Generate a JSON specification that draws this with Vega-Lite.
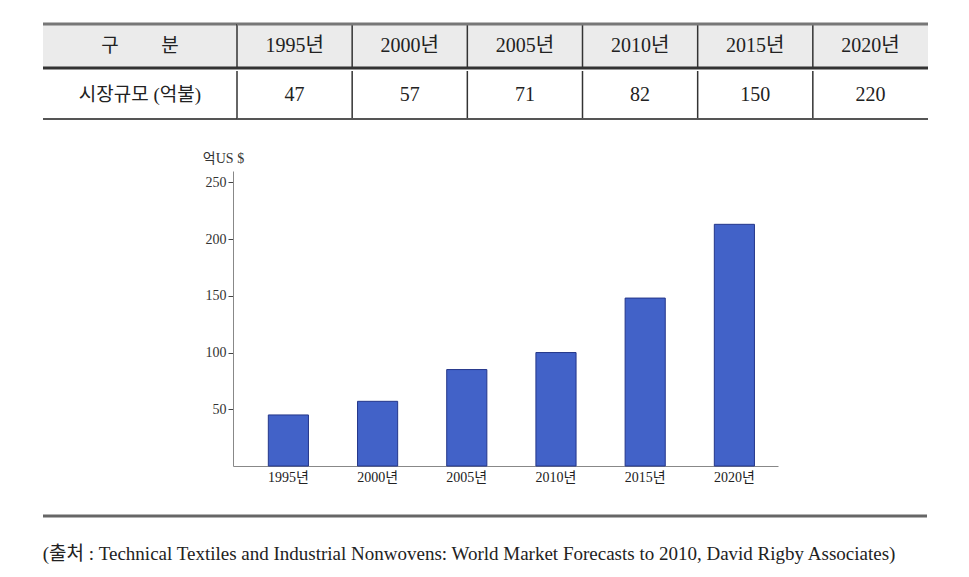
{
  "$schema": "https://vega.github.io/schema/vega-lite/v6.json",
  "padding": 0,
  "autosize": {"type": "pad"},
  "background": "white",
  "datasets": {
    "market": [
      {"year": "1995년", "table_value": 47, "chart_value": 45},
      {"year": "2000년", "table_value": 57, "chart_value": 57},
      {"year": "2005년", "table_value": 71, "chart_value": 85},
      {"year": "2010년", "table_value": 82, "chart_value": 100},
      {"year": "2015년", "table_value": 150, "chart_value": 148},
      {"year": "2020년", "table_value": 220, "chart_value": 213}
    ],
    "labels": [
      {"row": "header", "label": "구\u00a0\u00a0\u00a0\u00a0\u00a0\u00a0\u00a0\u00a0\u00a0분"},
      {"row": "value", "label": "시장규모 (억불)"}
    ],
    "edges": [{"edge": "top"}, {"edge": "bottom"}],
    "source": [{"note": "(출처 : Technical Textiles and Industrial Nonwovens: World Market Forecasts to 2010, David Rigby Associates)"}],
    "empty": []
  },
  "spacing": 0,
  "bounds": "full",
  "vconcat": [
    {"width": 1, "height": 21.5, "data": {"name": "empty"}, "mark": "point"},
    {
      "spacing": 0,
      "bounds": "flush",
      "hconcat": [
        {"width": 43, "height": 44, "data": {"name": "empty"}, "mark": "point"},
        {
          "width": 194, "height": 44,
          "layer": [
            {"data": {"name": "labels"}, "transform": [{"filter": "datum.row === 'header'"}], "mark": {"type": "rect", "fill": "#ebebeb"}, "encoding": {}},
            {"data": {"name": "edges"}, "transform": [{"filter": "datum.edge === 'top'"}], "mark": {"type": "rule", "color": "#777777", "strokeWidth": 3},
             "encoding": {"y": {"field": "edge", "type": "nominal", "scale": {"type": "point", "domain": ["top", "bottom"], "padding": 0}, "axis": null}}},
            {"data": {"name": "edges"}, "transform": [{"filter": "datum.edge === 'bottom'"}], "mark": {"type": "rule", "color": "#333333", "strokeWidth": 3},
             "encoding": {"y": {"field": "edge", "type": "nominal", "scale": {"type": "point", "domain": ["top", "bottom"], "padding": 0}, "axis": null}}},
            {"data": {"name": "labels"}, "transform": [{"filter": "datum.row === 'header'"}], "mark": {"type": "text", "fontSize": 19, "color": "#222222"},
             "encoding": {"text": {"field": "label"}}}
          ],
          "resolve": {"scale": {"x": "independent", "y": "independent"}}
        },
        {
          "width": 691, "height": 44,
          "layer": [
            {"data": {"name": "labels"}, "transform": [{"filter": "datum.row === 'header'"}], "mark": {"type": "rect", "fill": "#ebebeb"}, "encoding": {}},
            {"data": {"name": "market"}, "mark": {"type": "rule", "color": "#333333", "strokeWidth": 1.5},
             "encoding": {"x": {"field": "year", "type": "nominal", "bandPosition": 0, "scale": {"type": "band", "paddingInner": 0, "paddingOuter": 0}, "axis": null}}},
            {"data": {"name": "edges"}, "transform": [{"filter": "datum.edge === 'top'"}], "mark": {"type": "rule", "color": "#777777", "strokeWidth": 3},
             "encoding": {"y": {"field": "edge", "type": "nominal", "scale": {"type": "point", "domain": ["top", "bottom"], "padding": 0}, "axis": null}}},
            {"data": {"name": "edges"}, "transform": [{"filter": "datum.edge === 'bottom'"}], "mark": {"type": "rule", "color": "#333333", "strokeWidth": 3},
             "encoding": {"y": {"field": "edge", "type": "nominal", "scale": {"type": "point", "domain": ["top", "bottom"], "padding": 0}, "axis": null}}},
            {"data": {"name": "market"}, "mark": {"type": "text", "fontSize": 20, "color": "#222222"},
             "encoding": {"x": {"field": "year", "type": "nominal", "scale": {"type": "band", "paddingInner": 0, "paddingOuter": 0}, "axis": null}, "text": {"field": "year"}}}
          ],
          "resolve": {"scale": {"x": "independent", "y": "independent"}}
        }
      ]
    },
    {
      "spacing": 0,
      "bounds": "flush",
      "hconcat": [
        {"width": 43, "height": 48, "data": {"name": "empty"}, "mark": "point"},
        {
          "width": 194, "height": 48,
          "layer": [
            {"data": {"name": "edges"}, "transform": [{"filter": "datum.edge === 'bottom'"}], "mark": {"type": "rule", "color": "#555555", "strokeWidth": 2},
             "encoding": {"y": {"field": "edge", "type": "nominal", "scale": {"type": "point", "domain": ["top", "bottom"], "padding": 0}, "axis": null}}},
            {"data": {"name": "labels"}, "transform": [{"filter": "datum.row === 'value'"}], "mark": {"type": "text", "fontSize": 19, "color": "#222222"},
             "encoding": {"text": {"field": "label"}}}
          ],
          "resolve": {"scale": {"x": "independent", "y": "independent"}}
        },
        {
          "width": 691, "height": 48,
          "layer": [
            {"data": {"name": "market"}, "mark": {"type": "rule", "color": "#333333", "strokeWidth": 1.5},
             "encoding": {"x": {"field": "year", "type": "nominal", "bandPosition": 0, "scale": {"type": "band", "paddingInner": 0, "paddingOuter": 0}, "axis": null}}},
            {"data": {"name": "edges"}, "transform": [{"filter": "datum.edge === 'bottom'"}], "mark": {"type": "rule", "color": "#555555", "strokeWidth": 2},
             "encoding": {"y": {"field": "edge", "type": "nominal", "scale": {"type": "point", "domain": ["top", "bottom"], "padding": 0}, "axis": null}}},
            {"data": {"name": "market"}, "mark": {"type": "text", "fontSize": 20, "color": "#222222"},
             "encoding": {"x": {"field": "year", "type": "nominal", "scale": {"type": "band", "paddingInner": 0, "paddingOuter": 0}, "axis": null}, "text": {"field": "table_value"}}}
          ],
          "resolve": {"scale": {"x": "independent", "y": "independent"}}
        }
      ]
    },
    {"width": 1, "height": 31, "data": {"name": "empty"}, "mark": "point"},
    {
      "spacing": 0,
      "bounds": "flush",
      "hconcat": [
        {"width": 233, "height": 295, "data": {"name": "empty"}, "mark": "point"},
        {
          "width": 545, "height": 295,
          "data": {"name": "market"},
          "mark": {"type": "bar", "color": "#4262c8", "stroke": "#24368a", "strokeWidth": 1},
          "encoding": {
            "x": {"field": "year", "type": "nominal",
                  "scale": {"paddingInner": 0.55, "paddingOuter": 0.33, "align": 0.6},
                  "axis": {"title": null, "labelAngle": 0, "ticks": false, "domainColor": "#888888", "labelFontSize": 14, "labelColor": "#222222", "labelPadding": 4}},
            "y": {"field": "chart_value", "type": "quantitative",
                  "scale": {"domain": [0, 260], "nice": false},
                  "axis": {"values": [50, 100, 150, 200, 250], "grid": false, "title": "억US $", "titleAngle": 0, "titleX": -10, "titleY": -6, "titleAlign": "center", "titleBaseline": "bottom", "titleFontWeight": "normal", "titleFontSize": 14, "titleColor": "#333333", "tickSize": 5, "tickColor": "#444444", "domainColor": "#888888", "labelFontSize": 14, "labelColor": "#333333", "labelPadding": 2}}
          }
        }
      ]
    },
    {"width": 1, "height": 30, "data": {"name": "empty"}, "mark": "point"},
    {
      "spacing": 0,
      "bounds": "flush",
      "hconcat": [
        {"width": 43, "height": 2, "data": {"name": "empty"}, "mark": "point"},
        {
          "width": 884, "height": 2,
          "data": {"name": "edges"},
          "transform": [{"filter": "datum.edge === 'top'"}],
          "mark": {"type": "rule", "color": "#666666", "strokeWidth": 3},
          "encoding": {"y": {"field": "edge", "type": "nominal", "scale": {"type": "point", "domain": ["top", "bottom"], "padding": 0}, "axis": null}}
        }
      ]
    },
    {
      "width": 938, "height": 56,
      "data": {"name": "source"},
      "mark": {"type": "text", "fontSize": 19, "color": "#222222", "dy": 8},
      "encoding": {"text": {"field": "note"}}
    }
  ],
  "config": {
    "font": "Liberation Serif, Noto Sans CJK KR",
    "view": {"stroke": null},
    "axis": {"labelFont": "Liberation Serif, Noto Sans CJK KR", "titleFont": "Liberation Serif, Noto Sans CJK KR"}
  }
}
